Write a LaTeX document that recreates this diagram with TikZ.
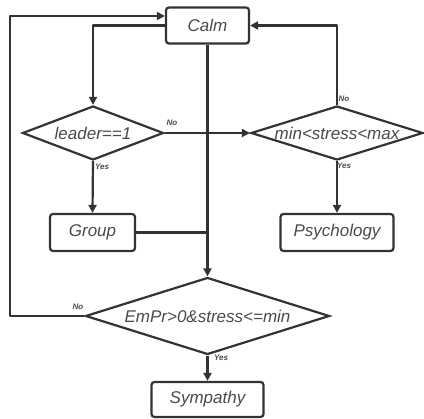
\documentclass[tikz,border=0pt]{standalone}
\usepackage{fontspec}
\setmainfont{Liberation Sans}
\usetikzlibrary{shapes.geometric,arrows.meta}
\definecolor{ln}{HTML}{333333}
\definecolor{tx}{HTML}{4A4A4A}
\tikzset{
  box/.style={draw=ln, line width=2.2pt, rounded corners=3pt, inner sep=0pt, text=tx, font=\fontsize{17}{20}\selectfont\itshape},
  dia/.style={draw=ln, line width=2.2pt, diamond, inner sep=0pt, text=tx, font=\fontsize{17}{20}\selectfont\itshape},
  conn/.style={draw=ln, line width=2.2pt, line join=round},
  arr/.style={conn, -{Triangle[length=8pt,width=8pt]}},
  lbl/.style={text=tx, inner sep=0pt, font=\fontsize{8}{9}\selectfont\bfseries\itshape}
}
\begin{document}
\begin{tikzpicture}[x=1pt,y=-1pt]
\useasboundingbox (0,0) rectangle (424,419);
\node[box, minimum width=83pt, minimum height=36pt] (calm) at (207.5,25.5) {Calm};
\node[dia, aspect=2.61, minimum width=141pt, minimum height=54pt] (leader) at (93,133) {leader==1};
\node[dia, aspect=3.19, minimum width=172pt, minimum height=54pt] (mm) at (337,133) {min<stress<max};
\node[box, minimum width=85pt, minimum height=37pt] (group) at (92.5,232.5) {Group};
\node[box, minimum width=113pt, minimum height=37pt] (psy) at (337,232.5) {Psychology};
\node[dia, aspect=3.17, minimum width=244pt, minimum height=77pt] (em) at (207.5,316) {EmPr>0\&stress<=min};
\node[box, minimum width=112pt, minimum height=35pt] (sym) at (207.5,399.5) {Sympathy};
\coordinate (lb) at (10,316);
\coordinate (lt) at (10,16);
\draw[arr] (calm.west) -| (leader.north);
\draw[arr] (leader.east) -- (mm.west);
\draw[arr] (mm.north) |- (calm.east);
\draw[arr] (mm.south) -- (psy.north);
\draw[arr] (leader.south) -- (group.north);
\draw[arr] (calm.south) -- (em.north);
\draw[conn] (group.east) -- (group.east -| calm.south);
\draw[arr] (em.west) -- (lb) -- (lt) -- (calm.west |- lt);
\draw[arr] (em.south) -- (sym.north);
\node[lbl] (n1) at (172,123) {No};
\node[lbl] (y1) at (102,167) {Yes};
\node[lbl] (n2) at (344,99) {No};
\node[lbl] (y2) at (344,166) {Yes};
\node[lbl] (n3) at (78,307) {No};
\node[lbl] (y3) at (221,358) {Yes};
\end{tikzpicture}
\end{document}
